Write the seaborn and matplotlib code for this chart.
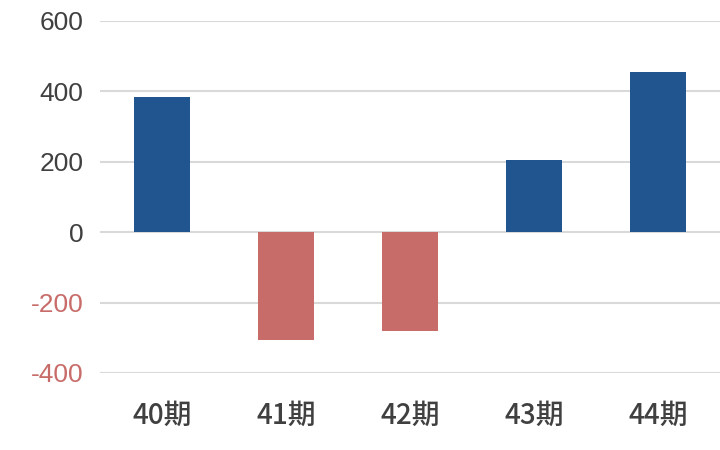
import seaborn as sns
import matplotlib.pyplot as plt
import pandas as pd

# data
periods = ['40期', '41期', '42期', '43期', '44期']
values = [383, -307, -282, 206, 454]
y_ticks = [-400, -200, 0, 200, 400, 600]

df = pd.DataFrame({'period': periods, 'value': values})
df['sign'] = ['pos' if v >= 0 else 'neg' for v in df['value']]

blue = '#20558f'
red = '#c86c69'
text_dark = '#404040'

sns.set_style('white')
plt.rcParams['font.family'] = ['Liberation Sans', 'Noto Sans CJK JP', 'DejaVu Sans']

fig = plt.figure(figsize=(7.2, 4.5), dpi=100)
ax = fig.add_axes([100 / 720, 1 - 373 / 450, 620 / 720, 352 / 450])

sns.barplot(data=df, x='period', y='value', hue='sign', palette={'pos': blue, 'neg': red},
            dodge=False, width=0.45, legend=False, ax=ax, saturation=1, linewidth=0)

ax.set_ylim(-400, 600)
ax.set_xlim(-0.5, 4.5)
ax.set_yticks(y_ticks)
ax.set_yticklabels([str(t) for t in y_ticks])
for lbl, t in zip(ax.get_yticklabels(), y_ticks):
    lbl.set_color(red if t < 0 else text_dark)
    lbl.set_fontsize(19)

ax.set_xticks(range(len(periods)))
ax.set_xticklabels(periods, fontsize=20, color=text_dark, fontweight='medium',
                   family=['Noto Sans CJK JP', 'DejaVu Sans'])

ax.yaxis.grid(True, color='#d9d9d9', linewidth=1.5)
ax.set_axisbelow(True)
ax.tick_params(axis='y', length=0, pad=12)
ax.tick_params(axis='x', length=0, pad=20)
ax.set_xlabel('')
ax.set_ylabel('')
sns.despine(ax=ax, left=True, bottom=True)

fig.savefig('out.png', dpi=100)
